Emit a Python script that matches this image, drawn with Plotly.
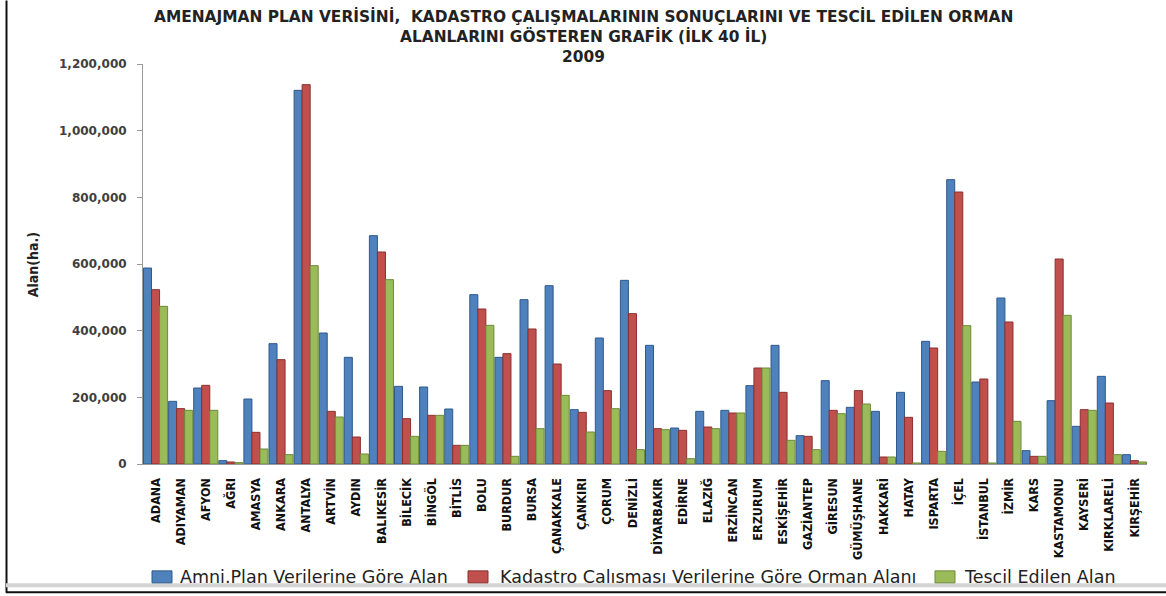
import plotly.graph_objects as go

provinces = ["ADANA", "ADIYAMAN", "AFYON", "AĞRI", "AMASYA", "ANKARA", "ANTALYA", "ARTVİN", "AYDIN",
             "BALIKESİR", "BİLECİK", "BİNGÖL", "BİTLİS", "BOLU", "BURDUR", "BURSA", "ÇANAKKALE",
             "ÇANKIRI", "ÇORUM", "DENİZLİ", "DİYARBAKIR", "EDİRNE", "ELAZIĞ", "ERZİNCAN", "ERZURUM",
             "ESKİŞEHİR", "GAZİANTEP", "GİRESUN", "GÜMÜŞHANE", "HAKKARİ", "HATAY", "ISPARTA", "İÇEL",
             "İSTANBUL", "İZMİR", "KARS", "KASTAMONU", "KAYSERİ", "KIRKLARELİ", "KIRŞEHİR"]

amenajman = [588000, 188000, 228000, 10000, 195000, 361000, 1121000, 393000, 320000,
             685000, 233000, 231000, 165000, 508000, 320000, 493000, 535000,
             163000, 378000, 551000, 356000, 108000, 158000, 161000, 235000,
             356000, 85000, 250000, 170000, 158000, 215000, 368000, 853000,
             246000, 498000, 40000, 190000, 113000, 263000, 28000]

kadastro = [523000, 166000, 236000, 6000, 95000, 313000, 1138000, 158000, 81000,
            636000, 136000, 146000, 56000, 465000, 331000, 405000, 300000,
            155000, 220000, 451000, 106000, 101000, 111000, 153000, 288000,
            215000, 83000, 161000, 220000, 21000, 140000, 348000, 816000,
            255000, 426000, 23000, 615000, 163000, 183000, 10000]

tescil = [473000, 161000, 161000, 4000, 45000, 28000, 595000, 141000, 30000,
          553000, 83000, 146000, 56000, 416000, 23000, 106000, 206000,
          96000, 166000, 43000, 103000, 16000, 106000, 153000, 288000,
          71000, 43000, 151000, 180000, 21000, 3000, 38000, 415000,
          3000, 128000, 23000, 446000, 161000, 28000, 6000]

series_names = ["Amni.Plan Verilerine Göre Alan",
                "Kadastro Calısması Verilerine Göre Orman Alanı",
                "Tescil Edilen Alan"]
y_ticks = [0, 200000, 400000, 600000, 800000, 1000000, 1200000]

COND = "DejaVu Sans Condensed, Liberation Sans Narrow, sans-serif"
REG = "DejaVu Sans, sans-serif"

fills = ["#4F81BD", "#C0504D", "#9BBB59"]
edges = ["#2F5A8C", "#8C2F2D", "#6E8A3A"]

fig = go.Figure()
for name, vals, c, e in zip(series_names, [amenajman, kadastro, tescil], fills, edges):
    fig.add_trace(go.Bar(x=provinces, y=vals, name=name,
                         marker=dict(color=c, line=dict(color=e, width=1))))

W, H = 1166, 596
L, R, T, B = 143, 19, 63.5, 132
pw, ph = W - L - R, H - T - B

def px(x):
    return (x - L) / pw

def py(y):
    return (H - B - y) / ph

title_font = dict(size=15.4, family=REG, color="#222222", weight="bold")

annotations = [
    dict(text="AMENAJMAN PLAN VERİSİNİ,  KADASTRO ÇALIŞMALARININ SONUÇLARINI VE TESCİL EDİLEN ORMAN",
         x=px(583), y=py(16), xref="paper", yref="paper", showarrow=False,
         xanchor="center", yanchor="middle", font=title_font),
    dict(text="ALANLARINI GÖSTEREN GRAFİK (İLK 40 İL)",
         x=px(583), y=py(36), xref="paper", yref="paper", showarrow=False,
         xanchor="center", yanchor="middle", font=title_font),
    dict(text="2009",
         x=px(583), y=py(56), xref="paper", yref="paper", showarrow=False,
         xanchor="center", yanchor="middle", font=title_font),
    dict(text="Alan(ha.)", textangle=-90,
         x=px(33), y=py(265), xref="paper", yref="paper", showarrow=False,
         xanchor="center", yanchor="middle",
         font=dict(size=14, family=COND, color="#222222", weight="bold")),
]

shapes = [
    dict(type="line", xref="paper", yref="paper", x0=px(6.5), x1=px(6.5), y0=py(0), y1=py(593),
         line=dict(color="#111111", width=2)),
    dict(type="line", xref="paper", yref="paper", x0=px(6), x1=px(1166), y0=py(585.5), y1=py(585.5),
         line=dict(color="#d4d4d4", width=4)),
    dict(type="line", xref="paper", yref="paper", x0=px(6), x1=px(1166), y0=py(592.5), y1=py(592.5),
         line=dict(color="#111111", width=2)),
]

# hand-drawn legend (swatch + label) so it cannot push the plot margins
legend_swatch_x = [152, 468, 935]
legend_text_x = [178, 498, 962]
for name, c, e, sx, tx in zip(series_names, fills, edges, legend_swatch_x, legend_text_x):
    shapes.append(dict(type="rect", xref="paper", yref="paper",
                       x0=px(sx), x1=px(sx + 20), y0=py(571), y1=py(583),
                       fillcolor=c, line=dict(color=e, width=1)))
    annotations.append(dict(text=name, x=px(tx), y=py(577), xref="paper", yref="paper",
                            showarrow=False, xanchor="left", yanchor="middle",
                            font=dict(size=17.5, family=REG, color="#222222")))

fig.update_layout(
    width=W, height=H,
    margin=dict(l=L, r=R, t=T, b=B, pad=0),
    paper_bgcolor="white", plot_bgcolor="white",
    barmode="group", bargap=0.04, bargroupgap=0.0,
    font=dict(family=REG, color="#222222"),
    showlegend=False,
    xaxis=dict(showline=True, linecolor="#9a9a9a", linewidth=1, ticks="",
               tickangle=-90, tickfont=dict(size=12.5, family=COND, color="#111111", weight="bold"),
               ticklabelstandoff=8, showgrid=False, zeroline=False, automargin=False),
    yaxis=dict(range=[0, 1200000], tickvals=y_ticks, tickformat=",d",
               showline=True, linecolor="#9a9a9a", linewidth=1, ticks="outside",
               ticklen=5, tickcolor="#9a9a9a",
               tickfont=dict(size=12, family=REG, color="#404040", weight="bold"),
               ticklabelstandoff=8, showgrid=False, zeroline=False, automargin=False),
    annotations=annotations,
    shapes=shapes,
)

post = ("document.documentElement.style.margin='0';"
        "document.documentElement.style.overflow='hidden';"
        "document.body.style.margin='0';"
        "document.body.style.overflow='hidden';"
        "var gd=document.getElementsByClassName('plotly-graph-div')[0];"
        "gd.style.position='fixed';gd.style.left='0px';gd.style.top='0px';")

fig.write_html("out.html", config={"displayModeBar": False}, post_script=post)
